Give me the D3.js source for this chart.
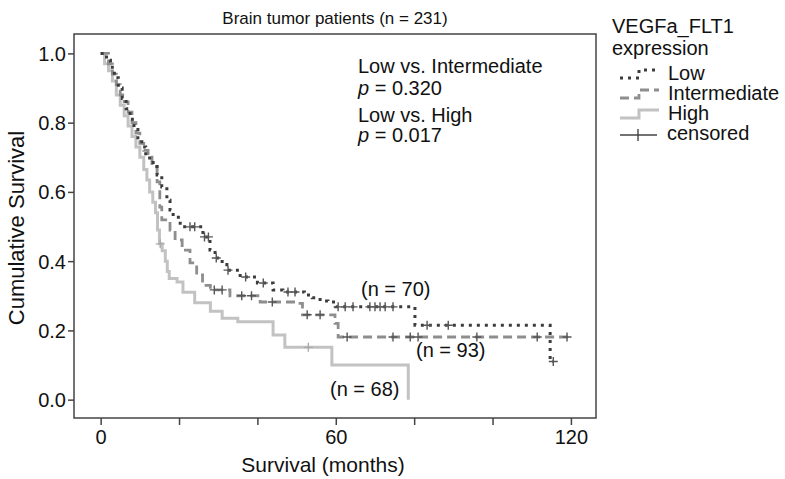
<!DOCTYPE html>
<html><head><meta charset="utf-8">
<script src="https://cdn.jsdelivr.net/npm/d3@7"></script>
<style>body{margin:0;background:#fff}svg{display:block}text{font-family:"Liberation Sans",Arial,sans-serif;fill:#111}</style>
</head><body><svg id="c" width="785" height="479"></svg>
<script>
// Kaplan-Meier step data (time in months, cumulative survival)
const lowT = [0,1.5,2.5,3.5,4.5,5.5,6.5,7.5,8.5,9.5,10.5,11.5,12.5,13.4,14.4,15.6,16.9,17.7,18.5,20.3,26.1,27.9,29.2,31,32.2,35.6,40,44,46.5,52,54,56,58,60,80.2,114.7,115.5];
const lowS = [1,0.98,0.96,0.93,0.9,0.87,0.84,0.81,0.78,0.75,0.73,0.71,0.69,0.678,0.649,0.614,0.576,0.548,0.527,0.499,0.47,0.432,0.409,0.39,0.374,0.354,0.337,0.317,0.311,0.302,0.294,0.285,0.282,0.268,0.215,0.11,0.11];
const lowCensT = [22.8,24,26.5,27.5,29.5,32.5,37,41.5,47.8,49.6,60.6,62.4,64.4,68.7,70,71.3,72.6,74.6,83.3,88.7,115.5];

const midT = [0,2,3,4,5,6,7,8,9,10,11,12.1,13.1,14.4,15.1,15.6,17.7,19,20.8,22.8,24.5,26,28,33,40.7,50,51.5,59.8,60.6,120];
const midS = [1,0.97,0.94,0.91,0.88,0.86,0.83,0.8,0.77,0.74,0.72,0.7,0.672,0.629,0.556,0.519,0.49,0.461,0.432,0.395,0.36,0.33,0.317,0.3,0.282,0.278,0.245,0.22,0.181,0.181];
const midCensT = [29,31,36,38.5,43.8,52.7,56,62.9,74.6,79,81,96,111.4,119];

const highT = [0,1,2,3,4,5,6,7,8,9,10,11,11.8,12.5,13.3,14,14.5,15,15.7,16.5,17,17.5,19.5,21,24,28,31,35,44,47,59,78.5];
const highS = [1,0.97,0.95,0.92,0.88,0.85,0.82,0.79,0.76,0.73,0.7,0.665,0.634,0.6,0.57,0.54,0.49,0.45,0.43,0.4,0.37,0.35,0.34,0.31,0.28,0.255,0.235,0.225,0.187,0.151,0.1,0];
const highCensT = [15.2,53];

const yTicks = [0,0.2,0.4,0.6,0.8,1.0];
const xTicks = [0,20,40,60,80,100,120];
const xLabels = [0,60,120];
const groups = ["Low","Intermediate","High"];
const nLabels = ["(n = 70)","(n = 93)","(n = 68)"];
const pText = [["Low vs. Intermediate",null],[null,"0.320"],["Low vs. High",null],[null,"0.017"]];

const svg = d3.select("#c");
const L=74,R=596,T=34,B=418;
const x = d3.scaleLinear().domain([-6.8,126.4]).range([L,R]);
const y = d3.scaleLinear().domain([-0.053,1.056]).range([B,T]);

const styles = {
  Low:{stroke:"#3c3c3c",width:3,dash:"3,5"},
  Intermediate:{stroke:"#8e8e8e",width:2.8,dash:"9,5"},
  High:{stroke:"#c2c2c2",width:3,dash:null}
};
const sets = [
  {g:"Low",t:lowT,s:lowS,c:lowCensT},
  {g:"Intermediate",t:midT,s:midS,c:midCensT},
  {g:"High",t:highT,s:highS,c:highCensT}
];
function survAt(set,tt){let v=set.s[0];for(let i=0;i<set.t.length;i++){if(set.t[i]<=tt)v=set.s[i];}return v;}

// frame
svg.append("rect").attr("x",L).attr("y",T).attr("width",R-L).attr("height",B-T)
  .attr("fill","none").attr("stroke","#444").attr("stroke-width",1.5);

// axes
const ya = svg.append("g").attr("transform",`translate(${L},0)`)
  .call(d3.axisLeft(y).tickValues(yTicks).tickFormat(d3.format(".1f")).tickSize(6).tickSizeOuter(0));
ya.select(".domain").remove();
const xa = svg.append("g").attr("transform",`translate(0,${B})`)
  .call(d3.axisBottom(x).tickValues(xTicks).tickFormat(d=>xLabels.includes(d)?d:"").tickSize(7).tickSizeOuter(0));
xa.select(".domain").remove();
svg.selectAll(".tick line").attr("stroke","#444").attr("stroke-width",1.5);
svg.selectAll(".tick text").style("font-size","20px").attr("fill","#111").style("font-family","Liberation Sans, Arial, sans-serif");
ya.selectAll(".tick text").attr("x",-8).attr("dy","0.35em");
xa.selectAll(".tick text").attr("y",12).attr("dy","0.71em");

// curves
const line = d3.line().x(d=>x(d[0])).y(d=>y(d[1])).curve(d3.curveStepAfter);
sets.slice().reverse().forEach(set=>{
  const st = styles[set.g];
  const pts = set.t.map((t,i)=>[t,set.s[i]]);
  svg.append("path").attr("d",line(pts)).attr("fill","none")
    .attr("stroke",st.stroke).attr("stroke-width",st.width)
    .attr("stroke-dasharray",st.dash).attr("stroke-linecap","butt");
  set.c.forEach(ct=>{
    const cx=x(ct), cy=y(survAt(set,ct));
    svg.append("path").attr("d",`M${cx-4.5},${cy}H${cx+4.5}M${cx},${cy-4.5}V${cy+4.5}`)
      .attr("stroke",set.g==="High"?"#aaa":"#555").attr("stroke-width",1.4).attr("fill","none");
  });
});

// title and axis labels
svg.append("text").attr("x",(L+R)/2).attr("y",24).attr("text-anchor","middle").style("font-size","17px").text("Brain tumor patients (n = 231)");
svg.append("text").attr("x",323).attr("y",472).attr("text-anchor","middle").style("font-size","21px").text("Survival (months)");
svg.append("text").attr("transform",`translate(24,${(T+B)/2+2}) rotate(-90)`).attr("text-anchor","middle").style("font-size","22px").text("Cumulative Survival");

// p-value annotations
const pBase=[73,95,122,142];
pText.forEach((row,i)=>{
  const t=svg.append("text").attr("x",358).attr("y",pBase[i]).style("font-size","20px");
  if(row[0]) t.text(row[0]);
  else { t.append("tspan").style("font-style","italic").text("p"); t.append("tspan").text(" = "+row[1]); }
});

// n labels
const nPos=[[361,296],[416,357],[330,396]];
nLabels.forEach((s,i)=>svg.append("text").attr("x",nPos[i][0]).attr("y",nPos[i][1]).style("font-size","20px").text(s));

// legend
svg.append("text").attr("x",612).attr("y",33).style("font-size","20px").text("VEGFa_FLT1");
svg.append("text").attr("x",612).attr("y",55).style("font-size","20px").text("expression");
const legY=[80,100,120,140];
groups.forEach((g,i)=>{
  const st=styles[g]; const by=legY[i]-6;
  svg.append("path").attr("d",`M620,${by+4}H639V${by-4}H659`).attr("fill","none")
    .attr("stroke",st.stroke).attr("stroke-width",st.width).attr("stroke-dasharray",st.dash);
  svg.append("text").attr("x",668).attr("y",legY[i]).style("font-size","20px").text(g);
});
svg.append("path").attr("d",`M620,135H657M638,129V141`).attr("stroke","#444").attr("stroke-width",1.4);
svg.append("text").attr("x",667).attr("y",140).style("font-size","20px").text("censored");
</script></body></html>
